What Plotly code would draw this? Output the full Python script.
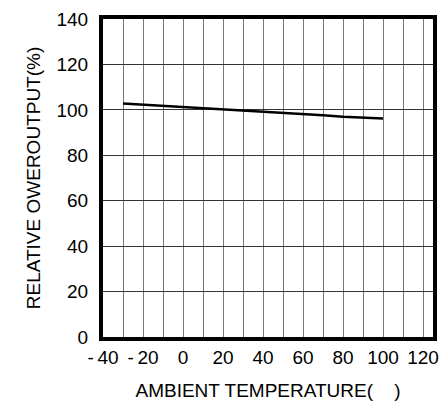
import plotly.graph_objects as go

# Data
temperature = [-30, -20, -10, 0, 10, 20, 30, 40, 50, 60, 70, 80, 90, 100]
relative_output = [102.8, 102.3, 101.7, 101.2, 100.8, 100.4, 99.9, 99.4, 98.8, 98.2, 97.6, 97.0, 96.6, 96.2]

x_tickvals = [-40, -20, 0, 20, 40, 60, 80, 100, 120]
x_ticktext = ["-\u200940", "-\u200920", "0", "20", "40", "60", "80", "100", "120"]
y_tickvals = [0, 20, 40, 60, 80, 100, 120, 140]

fig = go.Figure()
fig.add_trace(go.Scatter(
    x=temperature, y=relative_output, mode="lines",
    line=dict(color="black", width=2.5), showlegend=False,
))

font = dict(family="Liberation Sans, Arial, sans-serif", size=19, color="black")

fig.update_layout(
    width=445, height=405,
    margin=dict(l=103, r=6, t=19, b=67),
    paper_bgcolor="white", plot_bgcolor="white",
    font=font,
    xaxis=dict(
        range=[-40, 125], tickmode="array", tickvals=x_tickvals, ticktext=x_ticktext,
        showgrid=True, gridcolor="#777777", gridwidth=1,
        minor=dict(dtick=10, tick0=-40, showgrid=True, gridcolor="#777777", gridwidth=1),
        showline=True, mirror=True, linecolor="black", linewidth=4,
        zeroline=False, ticks="", ticklabelstandoff=0,
        title=dict(text="AMBIENT TEMPERATURE(\u00a0\u00a0\u00a0\u00a0)", font=font, standoff=18),
        fixedrange=True,
    ),
    yaxis=dict(
        range=[0, 140], tickmode="array", tickvals=y_tickvals,
        showgrid=True, gridcolor="#333333", gridwidth=1,
        showline=True, mirror=True, linecolor="black", linewidth=4,
        zeroline=False, ticks="", ticklabelstandoff=7,
        title=dict(text="RELATIVE OWEROUTPUT(%)", font=font, standoff=12),
        fixedrange=True,
    ),
)

fig.write_html("out.html", config={"displayModeBar": False},
               post_script="document.body.style.margin='0';document.body.style.overflow='hidden';")
